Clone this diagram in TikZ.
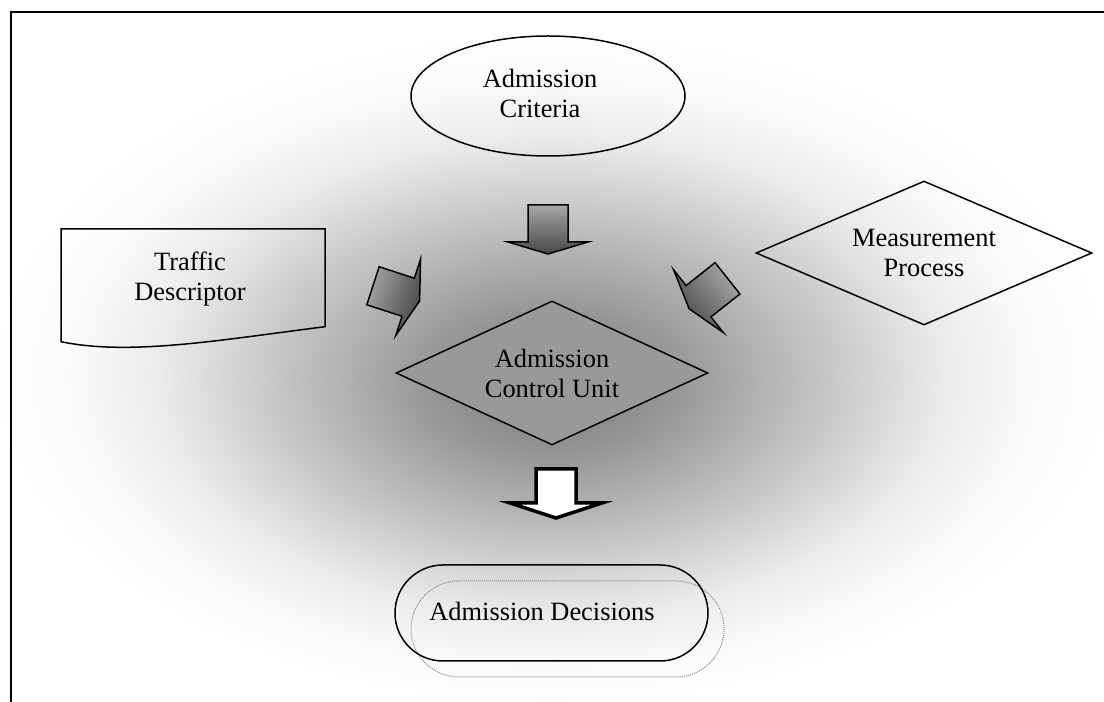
\documentclass[tikz,border=0pt]{standalone}
\usepackage{fontspec}
\setmainfont{Liberation Serif}
\usetikzlibrary{shapes.geometric,shapes.misc}

% soft grey haze behind the diagram, darkest just above the control unit
% (the filled path's bounding box maps onto the inner 25bp radius)
\pgfdeclareradialshading{haze}{\pgfpoint{-0.2bp}{-1.85bp}}{%
  color(0bp)=(black!52); color(5bp)=(black!42); color(11.25bp)=(black!25);
  color(17.5bp)=(black!8); color(21.25bp)=(black!2); color(25bp)=(white);
  color(50bp)=(white)}

\tikzset{
  lbl/.style={font=\fontsize{26.4}{30}\selectfont, align=center, inner sep=0pt},
  outline/.style={draw=black, line width=1.5pt},
  % block arrow, tail centre at the origin, pointing along +x
  pics/blockarrow/.style={code={
    \shade[top color=black!35, bottom color=black!72, shading angle=#1,
           draw=black, line width=1.5pt, line join=miter]
      (0,20) -- (37,20) -- (37,40) -- (49,0) -- (37,-40) -- (37,-20) -- (0,-20) -- cycle;
  }},
}

\begin{document}
\begin{tikzpicture}[x=1pt,y=1pt]
\useasboundingbox (0,0) rectangle (1104,702);

% background haze
\begin{scope}
  \clip (0,0) rectangle (1104,702);
  \shade[shading=haze] (555,342) ellipse [x radius=560pt, y radius=340pt];
\end{scope}

% frame
\draw[line width=2pt] (11,0) -- (11,690) -- (1104,690);

% admission criteria
\node[ellipse, outline, minimum width=274pt, minimum height=120pt, inner sep=0pt] (crit) at (548,606) {};
\node[lbl] (critT) at ([xshift=-8pt,yshift=3pt]crit.center) {Admission\\Criteria};

% traffic descriptor (document shape)
\coordinate (tdTL) at (61,473);
\coordinate (tdTR) at (325,473);
\coordinate (tdBR) at (325,375.3);
\coordinate (tdBL) at (61,360.3);
\draw[outline] (tdTL) -- (tdTR) -- (tdBR) .. controls (220,362) and (130,346) .. (tdBL) -- cycle;
\node[lbl] (td) at (190,422.6) {Traffic\\Descriptor};

% measurement process
\node[diamond, outline, aspect=2.33, minimum width=336pt, minimum height=144pt, inner sep=0pt, lbl]
  (meas) at (924,449) {Measurement\\Process};

% admission control unit
\node[diamond, outline, fill=black!40, aspect=2.17, minimum width=312pt, minimum height=144pt, inner sep=0pt, lbl]
  (acu) at (552,329) {Admission\\Control Unit};

% shaded block arrows into the control unit
\pic[rotate=-90] at (548,497) {blockarrow=0};
\pic[rotate=-18] at (373,416.2) {blockarrow=72};
\pic[rotate=-141.6] at (727.5,423.7) {blockarrow=-51.6};

% white block arrow out of the control unit
\filldraw[fill=white, draw=black, line width=3.5pt, line join=miter]
  (536,233) -- (576,233) -- (576,199) -- (602,199) -- (556,184) -- (510,199) -- (536,199) -- cycle;

% admission decisions
\node[rounded rectangle, draw=black!45, densely dotted, line width=1pt,
      minimum width=313pt, minimum height=96pt, inner sep=0pt] (decS) at (567.5,73) {};
\node[rounded rectangle, outline, minimum width=313pt, minimum height=96pt, inner sep=0pt] (dec) at (551.5,89) {};
\node[lbl, anchor=base] (decT) at (542,81.3) {Admission Decisions};
\end{tikzpicture}
\end{document}
